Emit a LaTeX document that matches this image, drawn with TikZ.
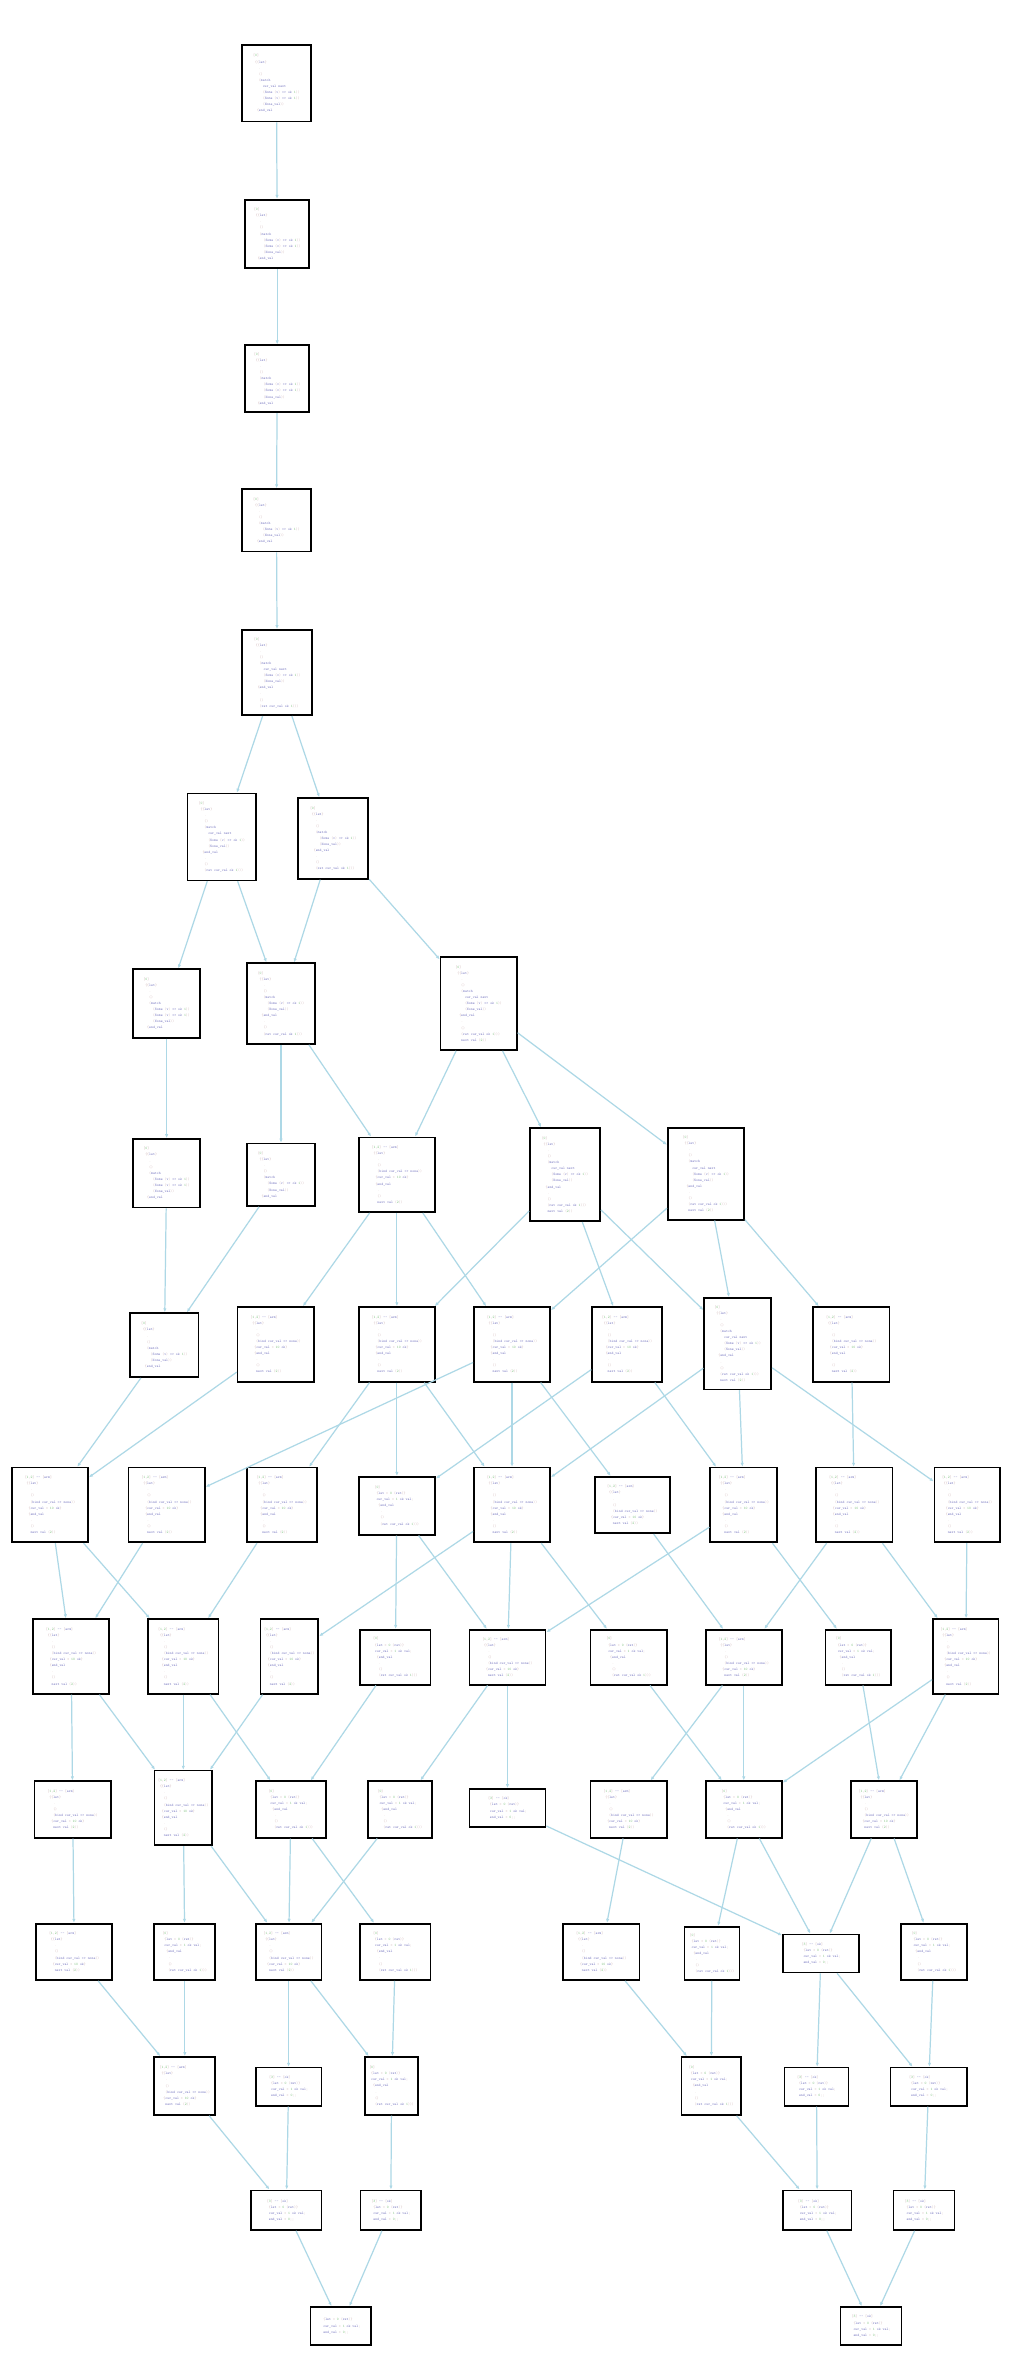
\documentclass[tikz,border=0pt]{standalone}
\usetikzlibrary{arrows.meta}

\definecolor{punc}{HTML}{CFB4B6}
\definecolor{ident}{HTML}{7A7AC2}
\definecolor{num}{HTML}{7DC07D}
\definecolor{lightblue}{HTML}{ADD8E6}

\newcommand{\gk}[1]{\textcolor{ident}{#1}}
\newcommand{\gn}[1]{\textcolor{num}{#1}}
\newcommand{\indt}[1]{\hspace*{#1\dimexpr1.26pt\relax}}

% code lines
\newcommand{\clhd}{[\gn{0}]}
\newcommand{\clhx}{[\gn{1},\gn{2}] \gk{--} [\gk{arm}]}
\newcommand{\cllet}{\indt{1}\{\{\gk{let}\}}
\newcommand{\cldot}{\indt{3}.}
\newcommand{\clpar}{\indt{3}()}
\newcommand{\clmat}{\indt{3}(\gk{match}}
\newcommand{\clval}{\indt{5}\gk{cur\_val} \gk{next}}
\newcommand{\clarm}{\indt{5}(\gk{Some} (\gk{v}) \gk{=>} \gk{ok} \gn{1}))}
\newcommand{\clnone}{\indt{5}(\gk{None\_val}))}
\newcommand{\clend}{\indt{2}\{\gk{end\_val}}
\newcommand{\clret}{\indt{3}(\gk{ret} \gk{cur\_val} \gk{ok} \gn{1})))}
\newcommand{\clbind}{\indt{3}(\gk{bind} \gk{cur\_val} \gk{=>} \gk{none}))}
\newcommand{\clasg}{\indt{2}\{\gk{cur\_val} = \gn{10} \gk{ok}\}}
\newcommand{\cltail}{\indt{3}\gk{next} \gk{val} (\gn{2}))}
\newcommand{\clsa}{[\gn{3}] \gk{--} [\gk{ok}]}
\newcommand{\clsb}{\indt{1}\{\gk{let} = \gn{0} (\gk{ret})\}}
\newcommand{\clsc}{\indt{1}\gk{cur\_val} = \gn{1} \gk{ok val};}
\newcommand{\clsd}{\indt{1}\gk{end\_val} = \gn{0};;}

% block bodies
\newcommand{\codeXIII}{\clhd\\\cllet\\\cldot\\\clpar\\\clmat\\\clval\\\clarm\\\clnone\\\clend\\\cldot\\\clpar\\\clret\\\cltail}
\newcommand{\codeXII}{\clhd\\\cllet\\\cldot\\\clpar\\\clmat\\\clval\\\clarm\\\clnone\\\clend\\\cldot\\\clpar\\\clret}
\newcommand{\codeXI}{\clhd\\\cllet\\\cldot\\\clpar\\\clmat\\\clarm\\\clnone\\\clend\\\cldot\\\clpar\\\clret}
\newcommand{\codeXb}{\clhd\\\cllet\\\cldot\\\clpar\\\clmat\\\clval\\\clarm\\\clarm\\\clnone\\\clend}
\newcommand{\codeX}{\clhx\\\cllet\\\cldot\\\clpar\\\clbind\\\clasg\\\clend\\\cldot\\\clpar\\\cltail}
\newcommand{\codeIX}{\clhd\\\cllet\\\cldot\\\clpar\\\clmat\\\clarm\\\clarm\\\clnone\\\clend}
\newcommand{\codeVIII}{\clhd\\\cllet\\\cldot\\\clpar\\\clmat\\\clarm\\\clnone\\\clend}
\newcommand{\codeVII}{\clhx\\\cllet\\\cldot\\\clpar\\\clbind\\\clasg\\\cltail}
\newcommand{\codeVIIb}{\clhd\\\clsb\\\clsc\\\clend\\\cldot\\\clpar\\\clret}
\newcommand{\codeIV}{\clsa\\\clsb\\\clsc\\\clsd}
\newcommand{\codeIII}{\clsb\\\clsc\\\clsd}

\tikzset{
  blk/.style={draw, line width=1.1pt, fill=white, align=left, inner sep=1pt,
    text=punc, font=\fontsize{2.4}{4}\selectfont\ttfamily},
  sz/.style 2 args={minimum width=#1pt, minimum height=#2pt},
  flow/.style={lightblue, line width=0.8pt, ->},
}

\begin{document}
\begin{tikzpicture}[x=0.994pt, y=-0.994pt, >={Latex[length=2.6pt,width=2.2pt]}]
  \fill[white] (0,0) rectangle (672,1568.5);
  \useasboundingbox (0,0) rectangle (672,1568.5);

  % chain at the top
  \node[blk, sz={45}{50}] (b1) at (182.5,55) {\codeXb};
  \node[blk, sz={42}{45}] (b2) at (183,154.5) {\codeIX};
  \node[blk, sz={42}{44}] (b3) at (183,250) {\codeIX};
  \node[blk, sz={45}{41}] (b4) at (182.5,343.5) {\codeVIII};
  \node[blk, sz={46}{56}] (b5) at (183,444) {\codeXII};

  \node[blk, sz={45}{57}] (b6) at (146.5,552.5) {\codeXII};
  \node[blk, sz={46}{53}] (b7) at (220,553.5) {\codeXI};

  \node[blk, sz={44}{45}] (b8) at (110,662.5) {\codeIX};
  \node[blk, sz={45}{53}] (b9) at (185.5,662.5) {\codeXI};
  \node[blk, sz={50}{61}] (b10) at (316,662.5) {\codeXIII};

  \node[blk, sz={44}{45}] (b11) at (110,774.5) {\codeIX};
  \node[blk, sz={45}{41}] (b12) at (185.5,775.5) {\codeVIII};
  \node[blk, sz={50}{49}] (b13) at (262,775.5) {\codeX};
  \node[blk, sz={46}{61}] (b14) at (373,775.5) {\codeXIII};
  \node[blk, sz={50}{60}] (b15) at (466,775) {\codeXIII};

  \node[blk, sz={45}{42}] (b16) at (108.5,888) {\codeVIII};
  \node[blk, sz={50}{49}] (b17) at (182,887.5) {\codeX};
  \node[blk, sz={50}{49}] (b18) at (262,887.5) {\codeX};
  \node[blk, sz={50}{49}] (b19) at (338,887.5) {\codeX};
  \node[blk, sz={46}{49}] (b20) at (414,887.5) {\codeX};
  \node[blk, sz={44}{60}] (b21) at (487,887) {\codeXIII};
  \node[blk, sz={50}{49}] (b22) at (562,887.5) {\codeX};

  \node[blk, sz={50}{49}] (b23) at (33,993.5) {\codeX};
  \node[blk, sz={50}{49}] (b24) at (110,993.5) {\codeX};
  \node[blk, sz={46}{49}] (b25) at (186,993.5) {\codeX};
  \node[blk, sz={50}{38}] (b26) at (262,994) {\codeVIIb};
  \node[blk, sz={50}{49}] (b27) at (338,993.5) {\codeX};
  \node[blk, sz={49}{37}] (b28) at (417.5,993.5) {\codeVII};
  \node[blk, sz={44}{49}] (b29) at (491,993.5) {\codeX};
  \node[blk, sz={50}{49}] (b30) at (564,993.5) {\codeX};
  \node[blk, sz={43}{49}] (b31) at (638.5,993.5) {\codeX};

  \node[blk, sz={50}{49}] (b32) at (47,1093.5) {\codeX};
  \node[blk, sz={46}{49}] (b33) at (121,1093.5) {\codeX};
  \node[blk, sz={38}{49}] (b34) at (191,1093.5) {\codeX};
  \node[blk, sz={46}{36}] (b35) at (261,1094) {\codeVIIb};
  \node[blk, sz={50}{36}] (b36) at (335,1094) {\codeVII};
  \node[blk, sz={50}{36}] (b37) at (415,1094) {\codeVIIb};
  \node[blk, sz={50}{36}] (b38) at (491,1094) {\codeVII};
  \node[blk, sz={43}{36}] (b39) at (566.5,1094) {\codeVIIb};
  \node[blk, sz={43}{49}] (b40) at (637.5,1093.5) {\codeX};

  \node[blk, sz={50}{37}] (b41) at (48,1194.5) {\codeVII};
  \node[blk, sz={38}{49}] (b42) at (121,1193.5) {\codeX};
  \node[blk, sz={46}{37}] (b43) at (192,1194.5) {\codeVIIb};
  \node[blk, sz={42}{37}] (b44) at (264,1194.5) {\codeVIIb};
  \node[blk, sz={50}{25}] (b45) at (335,1193.5) {\codeIV};
  \node[blk, sz={50}{37}] (b46) at (415,1194.5) {\codeVII};
  \node[blk, sz={50}{37}] (b47) at (491,1194.5) {\codeVIIb};
  \node[blk, sz={43}{37}] (b48) at (583.5,1194.5) {\codeVII};

  \node[blk, sz={50}{37}] (b49) at (49,1288.5) {\codeVII};
  \node[blk, sz={40}{37}] (b50) at (122,1288.5) {\codeVIIb};
  \node[blk, sz={43}{37}] (b51) at (190.5,1288.5) {\codeVII};
  \node[blk, sz={46}{37}] (b52) at (261,1288.5) {\codeVIIb};
  \node[blk, sz={50}{37}] (b53) at (397,1288.5) {\codeVII};
  \node[blk, sz={36}{35}] (b54) at (470,1289.5) {\codeVIIb};
  \node[blk, sz={50}{25}] (b55) at (542,1289.5) {\codeIV};
  \node[blk, sz={43}{37}] (b56) at (616.5,1288.5) {\codeVIIb};

  \node[blk, sz={40}{38}] (b57) at (122,1377) {\codeVII};
  \node[blk, sz={43}{25}] (b58) at (190.5,1377.5) {\codeIV};
  \node[blk, sz={35}{38}] (b59) at (258.5,1377) {\codeVIIb};
  \node[blk, sz={39}{38}] (b60) at (469.5,1377) {\codeVIIb};
  \node[blk, sz={42}{25}] (b61) at (539,1377.5) {\codeIV};
  \node[blk, sz={50}{25}] (b62) at (613,1377.5) {\codeIV};

  \node[blk, sz={46}{26}] (b63) at (189,1459) {\codeIV};
  \node[blk, sz={40}{26}] (b64) at (258,1459) {\codeIV};
  \node[blk, sz={45}{26}] (b65) at (539.5,1459) {\codeIV};
  \node[blk, sz={40}{26}] (b66) at (610,1459) {\codeIV};

  \node[blk, sz={40}{25}] (b67) at (225,1535.5) {\codeIII};
  \node[blk, sz={40}{25}] (b68) at (575,1535.5) {\codeIV};

  % connectors
  \draw[flow] (b1) -- (b2); \draw[flow] (b2) -- (b3); \draw[flow] (b3) -- (b4); \draw[flow] (b4) -- (b5);
  \draw[flow] (b5) -- (b6); \draw[flow] (b5) -- (b7);
  \draw[flow] (b6) -- (b8); \draw[flow] (b6) -- (b9); \draw[flow] (b7) -- (b9); \draw[flow] (b7) -- (b10);
  \draw[flow] (b8) -- (b11); \draw[flow] (b9) -- (b12); \draw[flow] (b9) -- (b13);
  \draw[flow] (b10) -- (b13); \draw[flow] (b10) -- (b14); \draw[flow] (b10) -- (b15);
  \draw[flow] (b11) -- (b16); \draw[flow] (b12) -- (b16);
  \draw[flow] (b13) -- (b17); \draw[flow] (b13) -- (b18); \draw[flow] (b13) -- (b19);
  \draw[flow] (b14) -- (b18); \draw[flow] (b14) -- (b20); \draw[flow] (b14) -- (b21);
  \draw[flow] (b15) -- (b19); \draw[flow] (b15) -- (b21); \draw[flow] (b15) -- (b22);
  \draw[flow] (b16) -- (b23); \draw[flow] (b17) -- (b23);
  \draw[flow] (b18) -- (b25); \draw[flow] (b18) -- (b26); \draw[flow] (b18) -- (b27);
  \draw[flow] (b19) -- (b24); \draw[flow] (b19) -- (b27); \draw[flow] (b19) -- (b28);
  \draw[flow] (b20) -- (b26); \draw[flow] (b20) -- (b29);
  \draw[flow] (b21) -- (b27); \draw[flow] (b21) -- (b29); \draw[flow] (b21) -- (b31);
  \draw[flow] (b22) -- (b30);
  \draw[flow] (b23) -- (b32); \draw[flow] (b23) -- (b33); \draw[flow] (b24) -- (b32); \draw[flow] (b25) -- (b33);
  \draw[flow] (b26) -- (b35); \draw[flow] (b26) -- (b36);
  \draw[flow] (b27) -- (b34); \draw[flow] (b27) -- (b36); \draw[flow] (b27) -- (b37);
  \draw[flow] (b28) -- (b38); \draw[flow] (b29) -- (b36); \draw[flow] (b29) -- (b39);
  \draw[flow] (b30) -- (b38); \draw[flow] (b30) -- (b40); \draw[flow] (b31) -- (b40);
  \draw[flow] (b32) -- (b41); \draw[flow] (b32) -- (b42); \draw[flow] (b33) -- (b42); \draw[flow] (b33) -- (b43);
  \draw[flow] (b34) -- (b42); \draw[flow] (b35) -- (b43); \draw[flow] (b36) -- (b44); \draw[flow] (b36) -- (b45);
  \draw[flow] (b37) -- (b47); \draw[flow] (b38) -- (b46); \draw[flow] (b38) -- (b47);
  \draw[flow] (b39) -- (b48); \draw[flow] (b40) -- (b47); \draw[flow] (b40) -- (b48);
  \draw[flow] (b41) -- (b49); \draw[flow] (b42) -- (b50); \draw[flow] (b42) -- (b51);
  \draw[flow] (b43) -- (b51); \draw[flow] (b43) -- (b52); \draw[flow] (b44) -- (b51);
  \draw[flow] (b45) -- (b55); \draw[flow] (b46) -- (b53);
  \draw[flow] (b47) -- (b54); \draw[flow] (b47) -- (b55); \draw[flow] (b48) -- (b55); \draw[flow] (b48) -- (b56);
  \draw[flow] (b49) -- (b57); \draw[flow] (b50) -- (b57); \draw[flow] (b51) -- (b58); \draw[flow] (b51) -- (b59);
  \draw[flow] (b52) -- (b59); \draw[flow] (b53) -- (b60); \draw[flow] (b54) -- (b60);
  \draw[flow] (b55) -- (b61); \draw[flow] (b55) -- (b62); \draw[flow] (b56) -- (b62);
  \draw[flow] (b57) -- (b63); \draw[flow] (b58) -- (b63); \draw[flow] (b59) -- (b64);
  \draw[flow] (b60) -- (b65); \draw[flow] (b61) -- (b65); \draw[flow] (b62) -- (b66);
  \draw[flow] (b63) -- (b67); \draw[flow] (b64) -- (b67); \draw[flow] (b65) -- (b68); \draw[flow] (b66) -- (b68);
\end{tikzpicture}
\end{document}
